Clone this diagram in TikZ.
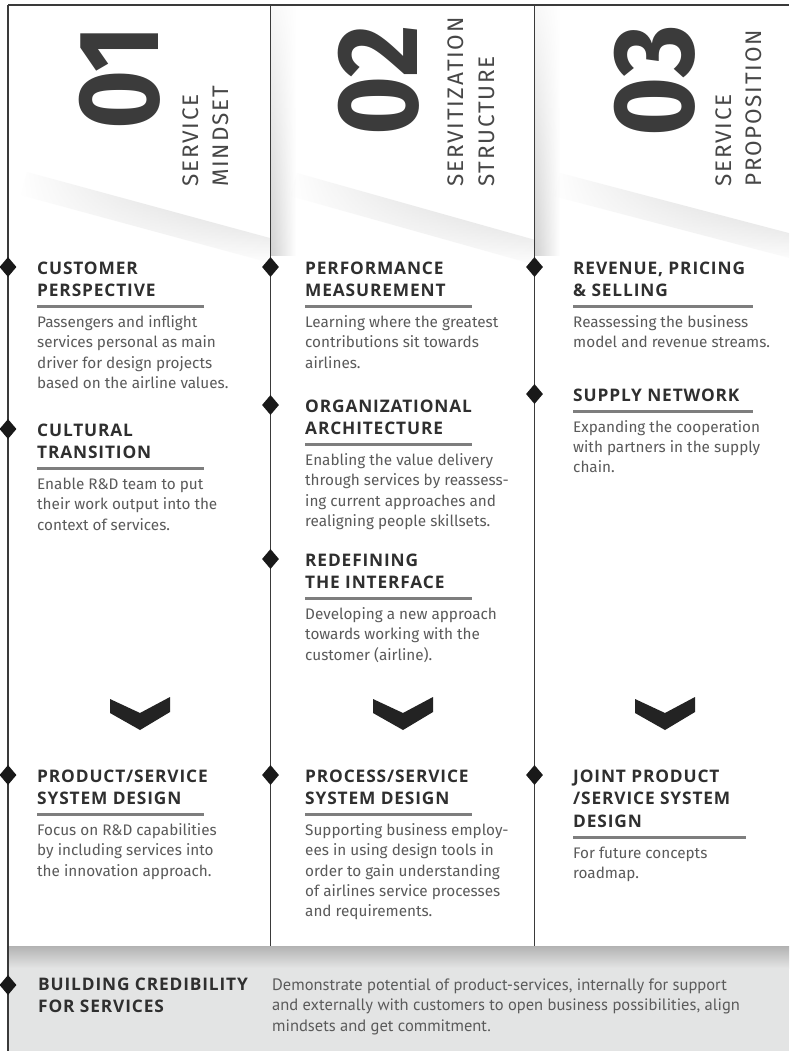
\documentclass[tikz,border=0pt]{standalone}
\usepackage{fontspec}
\setmainfont{Fira Sans}
\newfontfamily\numfont[FakeStretch=0.88]{Fira Sans}
\newfontfamily\headfont[LetterSpace=5]{Open Sans}
\newfontfamily\titlefont[LetterSpace=8]{Fira Sans}
\newfontfamily\descfont{PT Sans}
\usetikzlibrary{shapes.geometric,fadings}
\definecolor{framec}{HTML}{3A3A3A}
\definecolor{headc}{HTML}{2F2F2F}
\definecolor{bodyc}{HTML}{5A5A5A}
\definecolor{rulec}{HTML}{7E7E7E}
\definecolor{bandc}{HTML}{E3E4E4}
\definecolor{chevc}{HTML}{232323}
\definecolor{numc}{HTML}{3B3B3B}
\tikzfading[name=fadeleft, left color=transparent!100, right color=transparent!0]
\tikzfading[name=fadeup, top color=transparent!85, bottom color=transparent!0]
\newcommand\stackl[2]{\vtop{\baselineskip=#1\lineskiplimit=-100pt\lineskip=0pt\relax #2}}
\newcommand\chevronat[1]{\fill[chev, shift={(#1,713)}] (-30,-14) -- (0,0) -- (30,-16) -- (30,-1) -- (0,17) -- (-30,0) -- cycle;}
\begin{document}
\begin{tikzpicture}[x=1pt,y=-1pt,
  head/.style={anchor=base west, inner sep=0, text=headc, font=\headfont\bfseries\fontsize{17.3}{22.5}\selectfont},
  body/.style={anchor=base west, inner sep=0, text=bodyc, font=\fontsize{15.3}{20.3}\selectfont},
  desc/.style={anchor=base west, inner sep=0, text=bodyc, font=\descfont\fontsize{16.5}{20.5}\selectfont},
  hrule/.style={rulec, line width=3pt},
  dia/.style={diamond, fill=black!90, inner sep=0, minimum width=17pt, minimum height=20pt},
  chev/.style={fill=chevc},
  bignum/.style={rotate=90, anchor=base east, inner sep=0, text=numc, font=\numfont\bfseries\fontsize{115}{115}\selectfont},
  coltitle/.style={rotate=90, anchor=base west, inner sep=0, text=black!72, font=\titlefont\fontsize{22.5}{22.5}\selectfont},
  frameline/.style={framec, line width=1.6pt}
]
\useasboundingbox (0,0) rectangle (789,1051);
\fill[white] (0,0) rectangle (789,1051);

% header shadows
\begin{scope}
  \clip (8,5) rectangle (270.5,946);
  \begin{scope}[shift={(27,172)}, rotate=-15.2]
    \shade[top color=black!24, bottom color=white, path fading=fadeleft] (0,0) rectangle (260,24);
  \end{scope}
\end{scope}
\begin{scope}
  \clip (270.5,5) rectangle (534.5,946);
  \shade[left color=black!18, right color=white, path fading=fadeup] (270.5,5) rectangle (296,255);
  \begin{scope}[shift={(297,173)}, rotate=-15.7]
    \shade[top color=black!24, bottom color=white, path fading=fadeleft] (0,0) rectangle (260,24);
  \end{scope}
\end{scope}
\begin{scope}
  \clip (534.5,5) rectangle (789,946);
  \shade[left color=black!18, right color=white, path fading=fadeup] (534.5,5) rectangle (560,255);
  \begin{scope}[shift={(560,173)}, rotate=-14.7]
    \shade[top color=black!24, bottom color=white, path fading=fadeleft] (0,0) rectangle (260,24);
  \end{scope}
\end{scope}

% bottom band
\fill[bandc] (8,946) rectangle (789,1051);
\shade[top color=black!30, bottom color=bandc] (8,946) rectangle (789,968);

% frame lines
\draw[frameline] (8,5) -- (789,5);
\draw[frameline] (8,5) -- (8,1051);
\draw[frameline] (270.5,5) -- (270.5,946);
\draw[frameline] (534.5,5) -- (534.5,946);

% column titles
\node[bignum] (n1) at (158,25) {01};
\node[coltitle] (t1a) at (198,187) {SERVICE};
\node[coltitle] (t1b) at (228,187) {MINDSET};
\node[bignum] (n2) at (417,25) {02};
\node[coltitle] (t2a) at (463,187) {SERVITIZATION};
\node[coltitle] (t2b) at (494,187) {STRUCTURE};
\node[bignum] (n3) at (693,25) {03};
\node[coltitle] (t3a) at (731,187) {SERVICE};
\node[coltitle] (t3b) at (761,187) {PROPOSITION};

% column 1
\node[dia] (d11) at (8,267) {};
\node[head] (h11) at (37,274) {\stackl{22.5pt}{\hbox{CUSTOMER}\hbox{PERSPECTIVE}}};
\draw[hrule] (37,306.5) -- (204,306.5);
\node[body] (b11) at (37,327.5) {\stackl{20.3pt}{\hbox{Passengers and inflight}\hbox{services personal as main}\hbox{driver for design projects}\hbox{based on the airline values.}}};

\node[dia] (d12) at (8,429) {};
\node[head] (h12) at (37,436) {\stackl{22.5pt}{\hbox{CULTURAL}\hbox{TRANSITION}}};
\draw[hrule] (37,468.5) -- (204,468.5);
\node[body] (b12) at (37,489.5) {\stackl{20.3pt}{\hbox{Enable R\&D team to put}\hbox{their work output into the}\hbox{context of services.}}};

\chevronat{140}

\node[dia] (d13) at (8,775) {};
\node[head] (h13) at (37,782) {\stackl{22.5pt}{\hbox{PRODUCT/SERVICE}\hbox{SYSTEM DESIGN}}};
\draw[hrule] (37,814.5) -- (204,814.5);
\node[body] (b13) at (37,835.5) {\stackl{20.3pt}{\hbox{Focus on R\&D capabilities}\hbox{by including services into}\hbox{the innovation approach.}}};

% column 2
\node[dia] (d21) at (270.5,267) {};
\node[head] (h21) at (305,274) {\stackl{22.5pt}{\hbox{PERFORMANCE}\hbox{MEASUREMENT}}};
\draw[hrule] (305,306.5) -- (472,306.5);
\node[body] (b21) at (305,327.5) {\stackl{20.3pt}{\hbox{Learning where the greatest}\hbox{contributions sit towards}\hbox{airlines.}}};

\node[dia] (d22) at (270.5,405) {};
\node[head] (h22) at (305,412) {\stackl{22.5pt}{\hbox{ORGANIZATIONAL}\hbox{ARCHITECTURE}}};
\draw[hrule] (305,444.5) -- (472,444.5);
\node[body] (b22) at (305,465.5) {\stackl{20.3pt}{\hbox{Enabling the value delivery}\hbox{through services by reassess-}\hbox{ing current approaches and}\hbox{realigning people skillsets.}}};

\node[dia] (d23) at (270.5,559) {};
\node[head] (h23) at (305,566) {\stackl{22.5pt}{\hbox{REDEFINING}\hbox{THE INTERFACE}}};
\draw[hrule] (305,598.5) -- (472,598.5);
\node[body] (b23) at (305,619.5) {\stackl{20.3pt}{\hbox{Developing a new approach}\hbox{towards working with the}\hbox{customer (airline).}}};

\chevronat{403}

\node[dia] (d24) at (270.5,775) {};
\node[head] (h24) at (305,782) {\stackl{22.5pt}{\hbox{PROCESS/SERVICE}\hbox{SYSTEM DESIGN}}};
\draw[hrule] (305,814.5) -- (472,814.5);
\node[body] (b24) at (305,835.5) {\stackl{20.3pt}{\hbox{Supporting business employ-}\hbox{ees in using design tools in}\hbox{order to gain understanding}\hbox{of airlines service processes}\hbox{and requirements.}}};

% column 3
\node[dia] (d31) at (534.5,267) {};
\node[head] (h31) at (573,274) {\stackl{22.5pt}{\hbox{REVENUE, PRICING}\hbox{\& SELLING}}};
\draw[hrule] (573,306.5) -- (753,306.5);
\node[body] (b31) at (573,327.5) {\stackl{20.3pt}{\hbox{Reassessing the business}\hbox{model and revenue streams.}}};

\node[dia] (d32) at (534.5,394) {};
\node[head] (h32) at (573,401) {SUPPLY NETWORK};
\draw[hrule] (573,411) -- (753,411);
\node[body] (b32) at (573,432) {\stackl{20.3pt}{\hbox{Expanding the cooperation}\hbox{with partners in the supply}\hbox{chain.}}};

\chevronat{665}

\node[dia] (d33) at (534.5,775) {};
\node[head] (h33) at (573,782) {\stackl{22.5pt}{\hbox{JOINT PRODUCT}\hbox{/SERVICE SYSTEM}\hbox{DESIGN}}};
\draw[hrule] (573,837) -- (746,837);
\node[body] (b33) at (573,858) {\stackl{20.3pt}{\hbox{For future concepts}\hbox{roadmap.}}};

% bottom band
\node[dia] (d41) at (8,985) {};
\node[head] (h41) at (38,990) {\stackl{22pt}{\hbox{BUILDING CREDIBILITY}\hbox{FOR SERVICES}}};
\node[desc] (b41) at (272,990) {\stackl{20.5pt}{\hbox{Demonstrate potential of product-services, internally for support}\hbox{and externally with customers to open business possibilities, align}\hbox{mindsets and get commitment.}}};
\end{tikzpicture}
\end{document}
